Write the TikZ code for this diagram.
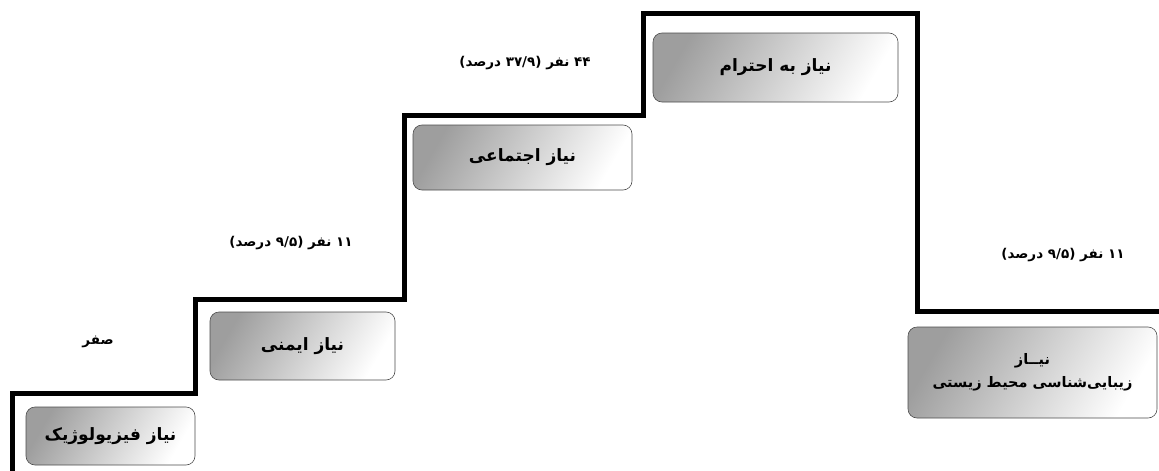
\documentclass[tikz,border=0pt]{standalone}
\usepackage{fontspec}
\newfontfamily\arabicfont[Script=Arabic]{DejaVu Sans}
\TeXXeTstate=1
\begin{document}
\begin{tikzpicture}[x=1pt,y=-1pt]
    \tikzstyle{need} = [shape=rectangle, rounded corners=9pt, draw=black!70, line width=0.6pt, top color=black!38, bottom color=white, shading angle=60, font=\arabicfont\bfseries\fontsize{17}{24}\selectfont, align=center]
    \tikzstyle{count} = [font=\arabicfont\bfseries\fontsize{13.5}{16}\selectfont]
    \useasboundingbox (0,0) rectangle (1159,471);

    % the stairs
    \draw [line width=5pt, line join=miter] (12,475) -- (12,393) -- (195,393) -- (195,299) -- (404,299) -- (404,115) -- (643,115) -- (643,13) -- (917,13) -- (917,311) -- (1165,311);

    \node (phys)   [need, minimum width=169pt, minimum height=58pt] at (110.5,436)   {\beginR نیاز فیزیولوژیک\endR};
    \node (safety) [need, minimum width=185pt, minimum height=68pt] at (302.5,346)   {\beginR نیاز ایمنی\endR};
    \node (social) [need, minimum width=219pt, minimum height=65pt] at (522.5,157.5) {\beginR نیاز اجتماعی\endR};
    \node (esteem) [need, minimum width=245pt, minimum height=69pt] at (775.5,67.5)  {\beginR نیاز به احترام\endR};
    \node (env)    [need, minimum width=249pt, minimum height=91pt, font=\arabicfont\bfseries\fontsize{14.5}{23}\selectfont] at (1032.5,372.5) {\beginR نیــاز\endR\\\beginR زیبایی‌شناسی محیط زیستی\endR};

    \node (n0) [count] at (98,342)   {\beginR صفر\endR};
    \node (n1) [count] at (291,243)  {\beginR ۱۱ نفر (\beginL ۹/۵\endL{} درصد)\endR};
    \node (n2) [count] at (525,63)   {\beginR ۴۴ نفر (\beginL ۳۷/۹\endL{} درصد)\endR};
    \node (n3) [count] at (1063,255) {\beginR ۱۱ نفر (\beginL ۹/۵\endL{} درصد)\endR};
\end{tikzpicture}
\end{document}
